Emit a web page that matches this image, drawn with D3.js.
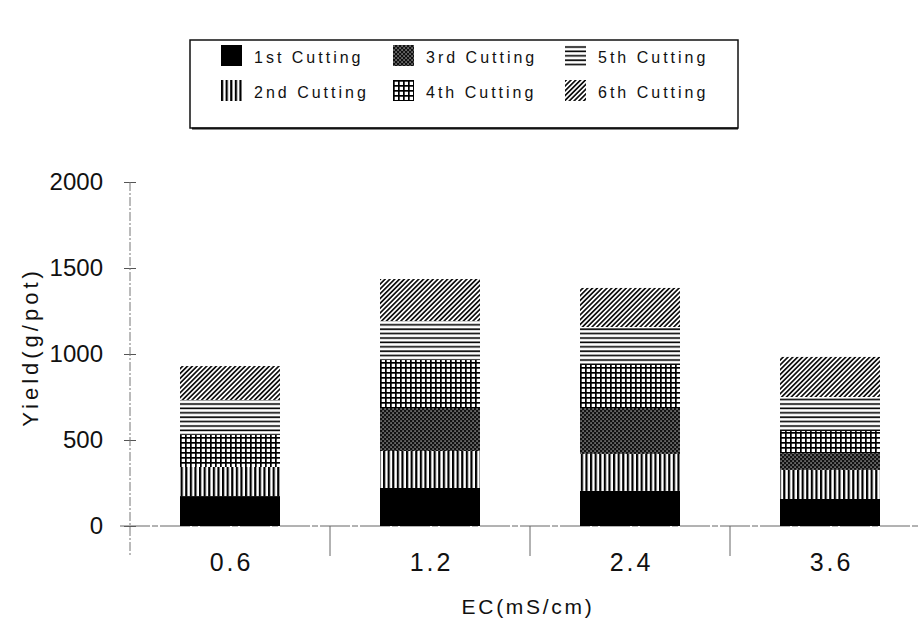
<!DOCTYPE html>
<html>
<head>
<meta charset="utf-8">
<script src="https://cdn.jsdelivr.net/npm/d3@7"></script>
<style>
  body { margin: 0; background: #fff; }
  svg { display: block; }
  text { font-family: "Liberation Sans", Arial, sans-serif; fill: #111; }
</style>
</head>
<body>
<script>
// values (g/pot)
var categories = ["0.6", "1.2", "2.4", "3.6"];
var seriesNames = ["1st Cutting", "2nd Cutting", "3rd Cutting", "4th Cutting", "5th Cutting", "6th Cutting"];
var cut1 = [174, 221, 204, 157];
var cut2 = [169, 215, 215, 169];
var cut3 = [0, 250, 267, 98];
var cut4 = [186, 279, 250, 128];
var cut5 = [204, 227, 221, 198];
var cut6 = [197, 244, 227, 233];
var yTicks = [0, 500, 1000, 1500, 2000];

var W = 923, H = 619;
var margin = {top: 182, right: -7, bottom: 93, left: 130};

var svg = d3.select("body").append("svg")
    .attr("width", W)
    .attr("height", H);

// fill patterns
var defs = svg.append("defs");
var p;
p = defs.append("pattern").attr("id", "pat0").attr("patternUnits", "userSpaceOnUse")
    .attr("width", 4).attr("height", 4);
p.append("rect").attr("width", 4).attr("height", 4).attr("fill", "#000");

p = defs.append("pattern").attr("id", "pat1").attr("patternUnits", "userSpaceOnUse")
    .attr("width", 4.6).attr("height", 4);
p.append("rect").attr("width", 4.6).attr("height", 4).attr("fill", "#fff");
p.append("rect").attr("width", 2.2).attr("height", 4).attr("fill", "#000");

p = defs.append("pattern").attr("id", "pat2").attr("patternUnits", "userSpaceOnUse")
    .attr("width", 4).attr("height", 4);
p.append("rect").attr("width", 4).attr("height", 4).attr("fill", "#111");
p.append("rect").attr("x", 0.5).attr("y", 0.5).attr("width", 1.1).attr("height", 1.1).attr("fill", "#fff");
p.append("rect").attr("x", 2.5).attr("y", 2.5).attr("width", 1.1).attr("height", 1.1).attr("fill", "#fff");

p = defs.append("pattern").attr("id", "pat3").attr("patternUnits", "userSpaceOnUse")
    .attr("width", 5).attr("height", 5);
p.append("rect").attr("width", 5).attr("height", 5).attr("fill", "#fff");
p.append("rect").attr("width", 1.7).attr("height", 5).attr("fill", "#000");
p.append("rect").attr("width", 5).attr("height", 1.7).attr("fill", "#000");

p = defs.append("pattern").attr("id", "pat4").attr("patternUnits", "userSpaceOnUse")
    .attr("width", 6).attr("height", 4.4);
p.append("rect").attr("width", 6).attr("height", 4.4).attr("fill", "#fff");
p.append("rect").attr("y", 1.2).attr("width", 6).attr("height", 1.6).attr("fill", "#000");

p = defs.append("pattern").attr("id", "pat5").attr("patternUnits", "userSpaceOnUse")
    .attr("width", 3.4).attr("height", 3.4).attr("patternTransform", "rotate(45)");
p.append("rect").attr("width", 3.4).attr("height", 3.4).attr("fill", "#fff");
p.append("rect").attr("width", 1.7).attr("height", 3.4).attr("fill", "#111");

var fills = ["url(#pat0)", "url(#pat1)", "url(#pat2)", "url(#pat3)", "url(#pat4)", "url(#pat5)"];

var width = W - margin.left - margin.right;   // 800
var height = H - margin.top - margin.bottom;  // 344

var x = d3.scaleBand().domain(categories).range([0, width])
    .paddingInner(0.5).paddingOuter(0.25);
var y = d3.scaleLinear().domain([0, 2000]).range([height, 0]);

var g = svg.append("g")
    .attr("transform", "translate(" + margin.left + "," + margin.top + ")");

// stacked data
var table = categories.map(function(c, i) {
  return {cat: c, s0: cut1[i], s1: cut2[i], s2: cut3[i], s3: cut4[i], s4: cut5[i], s5: cut6[i]};
});
var stacked = d3.stack().keys(["s0", "s1", "s2", "s3", "s4", "s5"])(table);

// axes
var yAxis = g.append("g")
    .attr("class", "axis axis--y")
    .call(d3.axisLeft(y).tickValues(yTicks).tickFormat(d3.format("d"))
      .tickSizeInner(6).tickSizeOuter(0).tickPadding(21));
yAxis.select(".domain").remove();
yAxis.selectAll(".tick line").attr("x1", 6).attr("stroke", "#555");
yAxis.selectAll(".tick text")
    .attr("font-size", 24)
    .style("font-family", "Liberation Sans, Arial, sans-serif");
yAxis.append("line")
    .attr("x1", 0).attr("x2", 0)
    .attr("y1", 0).attr("y2", height + 30)
    .attr("stroke", "#777").attr("stroke-width", 1)
    .attr("stroke-dasharray", "9,2,2,2");

var xAxis = g.append("g")
    .attr("class", "axis axis--x")
    .attr("transform", "translate(0," + height + ")")
    .call(d3.axisBottom(x).tickSize(0).tickPadding(27));
xAxis.select(".domain").remove();
xAxis.selectAll(".tick text")
    .attr("font-size", 25)
    .attr("letter-spacing", 3)
    .attr("dx", 1.5)
    .style("font-family", "Liberation Sans, Arial, sans-serif");
xAxis.append("line")
    .attr("x1", -10).attr("x2", width - 10)
    .attr("y1", 0).attr("y2", 0)
    .attr("stroke", "#666").attr("stroke-width", 1)
    .attr("stroke-dasharray", "30,2,6,2");
// separators between groups
xAxis.selectAll(".sep")
    .data(categories.slice(1))
  .enter().append("line")
    .attr("class", "sep")
    .attr("x1", function(d) { return x(d) - x.step() * x.paddingInner() / 2; })
    .attr("x2", function(d) { return x(d) - x.step() * x.paddingInner() / 2; })
    .attr("y1", 0).attr("y2", 30)
    .attr("stroke", "#666").attr("stroke-width", 1);

// bars
g.selectAll(".layer")
    .data(stacked)
  .enter().append("g")
    .attr("class", "layer")
    .attr("fill", function(d, i) { return fills[i]; })
  .selectAll("rect")
    .data(function(d) { return d; })
  .enter().append("rect")
    .attr("x", function(d) { return x(d.data.cat); })
    .attr("y", function(d) { return y(d[1]); })
    .attr("width", x.bandwidth())
    .attr("height", function(d) { return y(d[0]) - y(d[1]); });

// axis titles
svg.append("text")
    .attr("x", margin.left + width / 2 - 2)
    .attr("y", 614)
    .attr("text-anchor", "middle")
    .attr("font-size", 21)
    .attr("letter-spacing", 2.7)
    .text("EC(mS/cm)");
svg.append("text")
    .attr("transform", "translate(38,347) rotate(-90)")
    .attr("text-anchor", "middle")
    .attr("font-size", 22)
    .attr("letter-spacing", 4)
    .text("Yield(g/pot)");

// legend
var legend = svg.append("g");
legend.append("rect")
    .attr("x", 190).attr("y", 40)
    .attr("width", 548).attr("height", 88)
    .attr("fill", "#fff").attr("stroke", "#111").attr("stroke-width", 1.5);
legend.append("line")
    .attr("x1", 192).attr("x2", 738).attr("y1", 128.5).attr("y2", 128.5)
    .attr("stroke", "#111").attr("stroke-width", 2);
var colX = [221, 393, 565];
var rowY = [45, 80];
var items = legend.selectAll(".item")
    .data(seriesNames)
  .enter().append("g")
    .attr("class", "item")
    .attr("transform", function(d, i) {
      return "translate(" + colX[Math.floor(i / 2)] + "," + rowY[i % 2] + ")";
    });
items.append("rect")
    .attr("width", 21).attr("height", 21)
    .attr("fill", function(d, i) { return fills[i]; });
items.append("text")
    .attr("x", 33).attr("y", 18)
    .attr("font-size", 16)
    .attr("letter-spacing", 3)
    .text(function(d) { return d; });
</script>
</body>
</html>
